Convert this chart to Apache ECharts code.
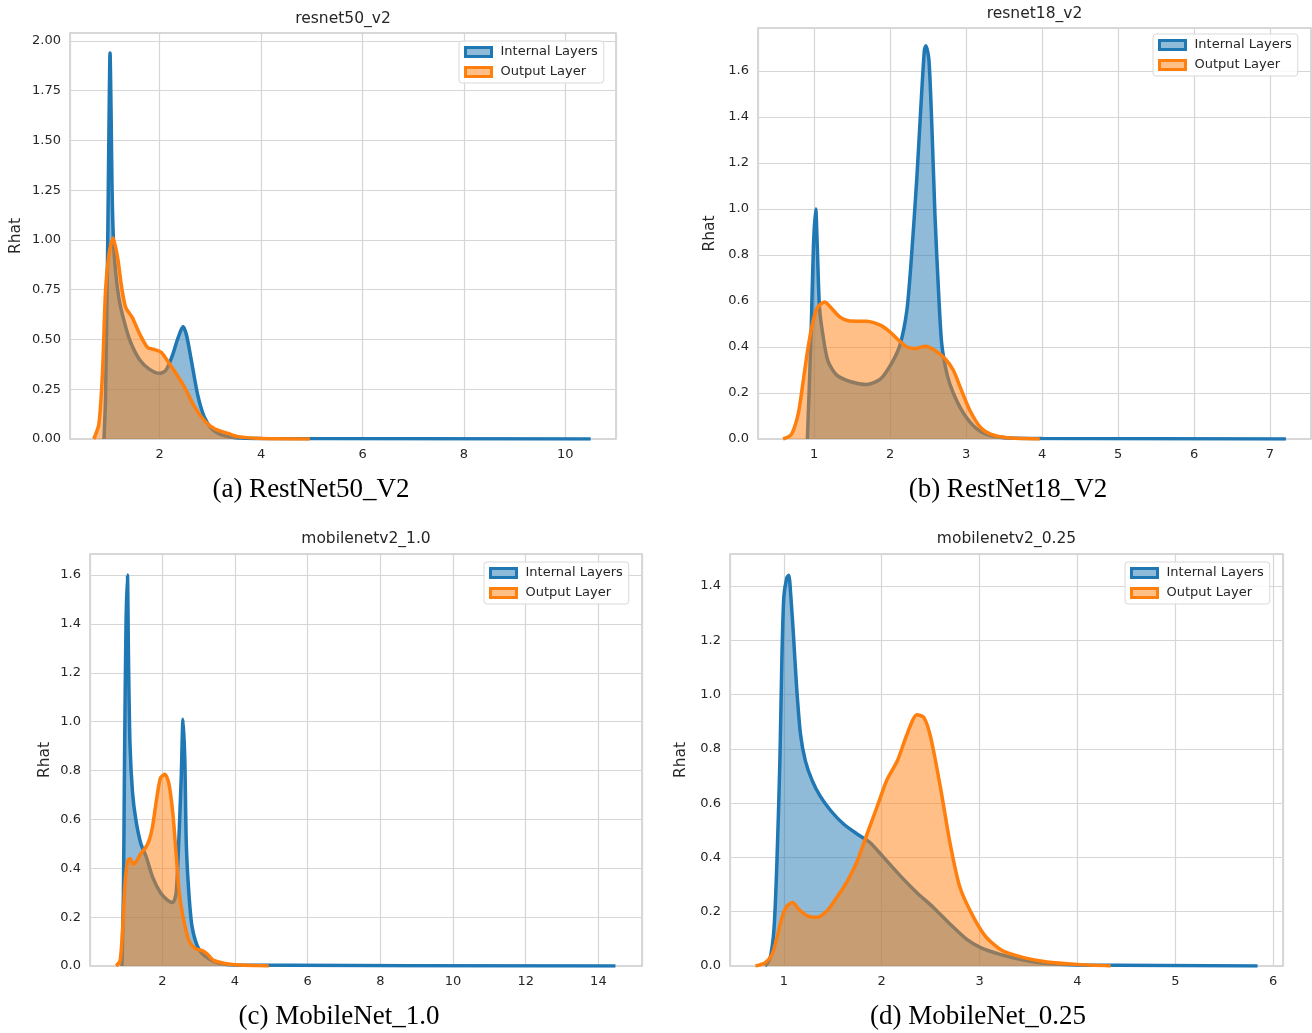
<!DOCTYPE html>
<html>
<head>
<meta charset="utf-8">
<title>Rhat density</title>
<script src="https://cdn.jsdelivr.net/npm/echarts@6/dist/echarts.min.js"></script>
<style>
  html, body { margin: 0; padding: 0; background: #fff; }
  #chart { width: 1312px; height: 1033px; }
</style>
</head>
<body>
<div id="chart"></div>
<script>
// legend names
const seriesNames = ['Internal Layers', 'Output Layer'];
const panelTitles = ['resnet50_v2', 'resnet18_v2', 'mobilenetv2_1.0', 'mobilenetv2_0.25'];
const panelCaptions = ['(a) RestNet50_V2', '(b) RestNet18_V2', '(c) MobileNet_1.0', '(d) MobileNet_0.25'];

// (a) resnet50_v2
const r50InternalX = [0.90, 0.93, 0.97, 1.00, 1.02, 1.04, 1.06, 1.09, 1.13, 1.20, 1.30, 1.42, 1.60, 1.80, 2.00, 2.12, 2.25, 2.35, 2.46, 2.53, 2.62, 2.75, 2.88, 3.05, 3.25, 3.50, 4.00, 10.50];
const r50InternalY = [0.00, 0.20, 0.90, 1.60, 1.94, 1.65, 1.25, 0.98, 0.84, 0.70, 0.59, 0.49, 0.40, 0.35, 0.33, 0.345, 0.42, 0.50, 0.565, 0.52, 0.40, 0.22, 0.11, 0.045, 0.018, 0.006, 0.002, 0.0];
const r50OutputX = [0.70, 0.80, 0.87, 0.93, 1.00, 1.08, 1.17, 1.25, 1.33, 1.46, 1.60, 1.76, 1.89, 2.03, 2.16, 2.32, 2.49, 2.69, 2.89, 3.09, 3.35, 3.55, 4.00, 4.96];
const r50OutputY = [0.00, 0.075, 0.33, 0.74, 0.93, 1.01, 0.91, 0.76, 0.66, 0.61, 0.53, 0.46, 0.45, 0.435, 0.39, 0.33, 0.26, 0.16, 0.09, 0.05, 0.028, 0.012, 0.002, 0.0];

// (b) resnet18_v2
const r18InternalX = [0.91, 0.93, 0.96, 0.99, 1.02, 1.04, 1.07, 1.12, 1.18, 1.29, 1.47, 1.69, 1.87, 2.02, 2.13, 2.22, 2.28, 2.35, 2.40, 2.45, 2.47, 2.51, 2.55, 2.59, 2.64, 2.68, 2.75, 2.83, 2.97, 3.14, 3.32, 3.58, 4.00, 7.21];
const r18InternalY = [0.00, 0.18, 0.47, 0.84, 1.00, 0.84, 0.57, 0.44, 0.34, 0.28, 0.25, 0.237, 0.26, 0.33, 0.41, 0.56, 0.79, 1.13, 1.42, 1.69, 1.71, 1.65, 1.35, 0.97, 0.62, 0.41, 0.28, 0.20, 0.11, 0.044, 0.015, 0.004, 0.002, 0.0];
const r18OutputX = [0.59, 0.70, 0.79, 0.85, 0.92, 0.99, 1.05, 1.14, 1.23, 1.34, 1.47, 1.69, 1.87, 2.00, 2.11, 2.22, 2.33, 2.46, 2.59, 2.72, 2.83, 2.94, 3.05, 3.19, 3.34, 3.58, 3.97];
const r18OutputY = [0.00, 0.02, 0.11, 0.24, 0.40, 0.52, 0.575, 0.596, 0.567, 0.53, 0.513, 0.512, 0.495, 0.465, 0.43, 0.40, 0.393, 0.403, 0.385, 0.35, 0.30, 0.21, 0.124, 0.05, 0.019, 0.004, 0.0];

// (c) mobilenetv2_1.0
const mb10InternalX = [0.89, 0.93, 0.96, 1.00, 1.04, 1.07, 1.11, 1.18, 1.27, 1.41, 1.55, 1.73, 1.95, 2.14, 2.29, 2.38, 2.45, 2.52, 2.57, 2.62, 2.66, 2.73, 2.82, 3.00, 3.27, 3.55, 4.00, 14.47];
const mb10InternalY = [0.00, 0.30, 0.84, 1.39, 1.60, 1.25, 0.91, 0.71, 0.60, 0.50, 0.45, 0.365, 0.30, 0.27, 0.26, 0.30, 0.50, 0.77, 1.01, 0.84, 0.50, 0.30, 0.16, 0.07, 0.03, 0.012, 0.004, 0.0];
const mb10OutputX = [0.73, 0.84, 0.91, 0.98, 1.05, 1.11, 1.20, 1.29, 1.41, 1.55, 1.64, 1.73, 1.84, 1.95, 2.07, 2.18, 2.29, 2.38, 2.47, 2.59, 2.73, 2.91, 3.09, 3.23, 3.41, 3.73, 4.00, 4.93];
const mb10OutputY = [0.00, 0.023, 0.16, 0.35, 0.43, 0.44, 0.416, 0.43, 0.46, 0.487, 0.515, 0.57, 0.68, 0.77, 0.785, 0.747, 0.624, 0.46, 0.296, 0.187, 0.105, 0.071, 0.064, 0.05, 0.023, 0.01, 0.005, 0.0];

// (d) mobilenetv2_0.25
const mb025InternalX = [0.81, 0.86, 0.90, 0.93, 0.96, 0.98, 1.00, 1.03, 1.05, 1.07, 1.10, 1.13, 1.17, 1.22, 1.29, 1.37, 1.48, 1.61, 1.75, 1.88, 2.02, 2.19, 2.36, 2.53, 2.70, 2.87, 3.01, 3.21, 3.41, 3.62, 4.00, 5.84];
const mb025InternalY = [0.00, 0.03, 0.14, 0.39, 0.76, 1.13, 1.36, 1.43, 1.44, 1.37, 1.21, 1.03, 0.855, 0.756, 0.683, 0.627, 0.572, 0.523, 0.486, 0.455, 0.40, 0.332, 0.27, 0.215, 0.154, 0.098, 0.068, 0.043, 0.025, 0.012, 0.004, 0.0];
const mb025OutputX = [0.71, 0.81, 0.88, 0.93, 0.98, 1.03, 1.09, 1.15, 1.24, 1.34, 1.44, 1.54, 1.65, 1.75, 1.85, 1.95, 2.05, 2.16, 2.26, 2.36, 2.43, 2.50, 2.60, 2.70, 2.80, 2.94, 3.07, 3.24, 3.45, 3.69, 4.00, 4.34];
const mb025OutputY = [0.00, 0.012, 0.043, 0.105, 0.178, 0.22, 0.234, 0.21, 0.185, 0.18, 0.203, 0.252, 0.314, 0.387, 0.486, 0.584, 0.683, 0.756, 0.855, 0.926, 0.916, 0.843, 0.658, 0.449, 0.289, 0.178, 0.105, 0.055, 0.031, 0.015, 0.006, 0.0];

const pair = (xs, ys) => xs.map((x, i) => [x, ys[i]]);

const BLUE = '#1f77b4';
const ORANGE = '#ff7f0e';
const TXT = '#262626';
const GRIDC = '#d6d6d6';

// layout of each panel (pixels)
const panels = [
  { grid: [70, 33, 546, 406], x: [0.23, 11.0, 2], y: [2.04, 0.25, 2], legend: [459, 41], nameGap: 46, titleY: 19, capX: 311, capY: 490,
    internal: pair(r50InternalX, r50InternalY), output: pair(r50OutputX, r50OutputY) },
  { grid: [758, 28, 553, 411], x: [0.26, 7.54, 1], y: [1.787, 0.2, 1], legend: [1153, 34], nameGap: 40, titleY: 14, capX: 1008, capY: 490,
    internal: pair(r18InternalX, r18InternalY), output: pair(r18OutputX, r18OutputY) },
  { grid: [90, 554, 552, 412], x: [0.01, 15.2, 2], y: [1.686, 0.2, 1], legend: [484, 562], nameGap: 37, titleY: 539, capX: 339, capY: 1017,
    internal: pair(mb10InternalX, mb10InternalY), output: pair(mb10OutputX, mb10OutputY) },
  { grid: [730, 554, 553, 412], x: [0.45, 6.1, 1], y: [1.518, 0.2, 1], legend: [1125, 562], nameGap: 41, titleY: 539, capX: 978, capY: 1017,
    internal: pair(mb025InternalX, mb025InternalY), output: pair(mb025OutputX, mb025OutputY) }
];

const grids = [], xAxes = [], yAxes = [], series = [], legends = [], graphics = [];

panels.forEach((p, i) => {
  grids.push({
    left: p.grid[0], top: p.grid[1], width: p.grid[2], height: p.grid[3],
    show: true, borderColor: '#cccccc', borderWidth: 1.5, backgroundColor: '#fff'
  });
  xAxes.push({
    type: 'value', gridIndex: i, min: p.x[0], max: p.x[1],
    minInterval: p.x[2], maxInterval: p.x[2],
    axisLine: { show: false }, axisTick: { show: false },
    splitLine: { show: true, lineStyle: { color: GRIDC, width: 1.2 } },
    axisLabel: {
      color: TXT, fontSize: 13, fontFamily: 'DejaVu Sans', margin: 9,
      showMinLabel: false, showMaxLabel: false,
      formatter: v => String(Math.round(v))
    }
  });
  yAxes.push({
    type: 'value', gridIndex: i, min: 0, max: p.y[0],
    minInterval: p.y[1], maxInterval: p.y[1],
    name: 'Rhat', nameLocation: 'middle', nameGap: p.nameGap, nameRotate: 90,
    nameTextStyle: { color: TXT, fontSize: 15.5, fontFamily: 'DejaVu Sans' },
    axisLine: { show: false }, axisTick: { show: false },
    splitLine: { show: true, lineStyle: { color: GRIDC, width: 1.2 } },
    axisLabel: {
      color: TXT, fontSize: 13, fontFamily: 'DejaVu Sans', margin: 9,
      showMinLabel: true, showMaxLabel: false,
      formatter: v => v.toFixed(p.y[2])
    }
  });
  // blue first, orange on top so its fill tints the blue line
  [[seriesNames[0], BLUE, 'rgba(31,119,180,0.5)', p.internal, 2],
   [seriesNames[1], ORANGE, 'rgba(255,127,14,0.5)', p.output, 3]].forEach(s => {
    series.push({
      name: s[0], type: 'line', xAxisIndex: i, yAxisIndex: i, z: s[4],
      data: s[3], smooth: 0.25, showSymbol: false, symbol: 'none',
      lineStyle: { color: s[1], width: 3.5 },
      itemStyle: { color: s[1] },
      areaStyle: { color: s[2], opacity: 1, origin: 'start' },
      silent: true
    });
  });
  legends.push({
    left: p.legend[0], top: p.legend[1], orient: 'vertical',
    padding: [3, 6, 3, 5], itemWidth: 26, itemHeight: 9, itemGap: 4,
    backgroundColor: 'rgba(255,255,255,0.85)', borderColor: '#d9d9d9', borderWidth: 1, borderRadius: 3,
    icon: 'rect', selectedMode: false, z: 10,
    textStyle: { color: TXT, fontSize: 13, fontFamily: 'DejaVu Sans', lineHeight: 16, padding: [0, 0, 0, 4] },
    data: [
      { name: seriesNames[0], icon: 'rect', itemStyle: { color: 'rgba(31,119,180,0.5)', borderColor: BLUE, borderWidth: 3 } },
      { name: seriesNames[1], icon: 'rect', itemStyle: { color: 'rgba(255,127,14,0.5)', borderColor: ORANGE, borderWidth: 3 } }
    ]
  });
  const cx = p.grid[0] + p.grid[2] / 2;
  graphics.push({
    type: 'text', x: cx, y: p.titleY,
    style: { text: panelTitles[i], align: 'center', verticalAlign: 'middle', fill: TXT, font: '15.5px "DejaVu Sans"' }
  });
  graphics.push({
    type: 'text', x: p.capX, y: p.capY,
    style: { text: panelCaptions[i], align: 'center', verticalAlign: 'middle', fill: '#000', font: '27px "Liberation Serif"' }
  });
});

const myChart = echarts.init(document.getElementById('chart'));
myChart.setOption({
  animation: false,
  backgroundColor: '#fff',
  grid: grids,
  xAxis: xAxes,
  yAxis: yAxes,
  legend: legends,
  series: series,
  graphic: graphics
});
</script>
</body>
</html>
